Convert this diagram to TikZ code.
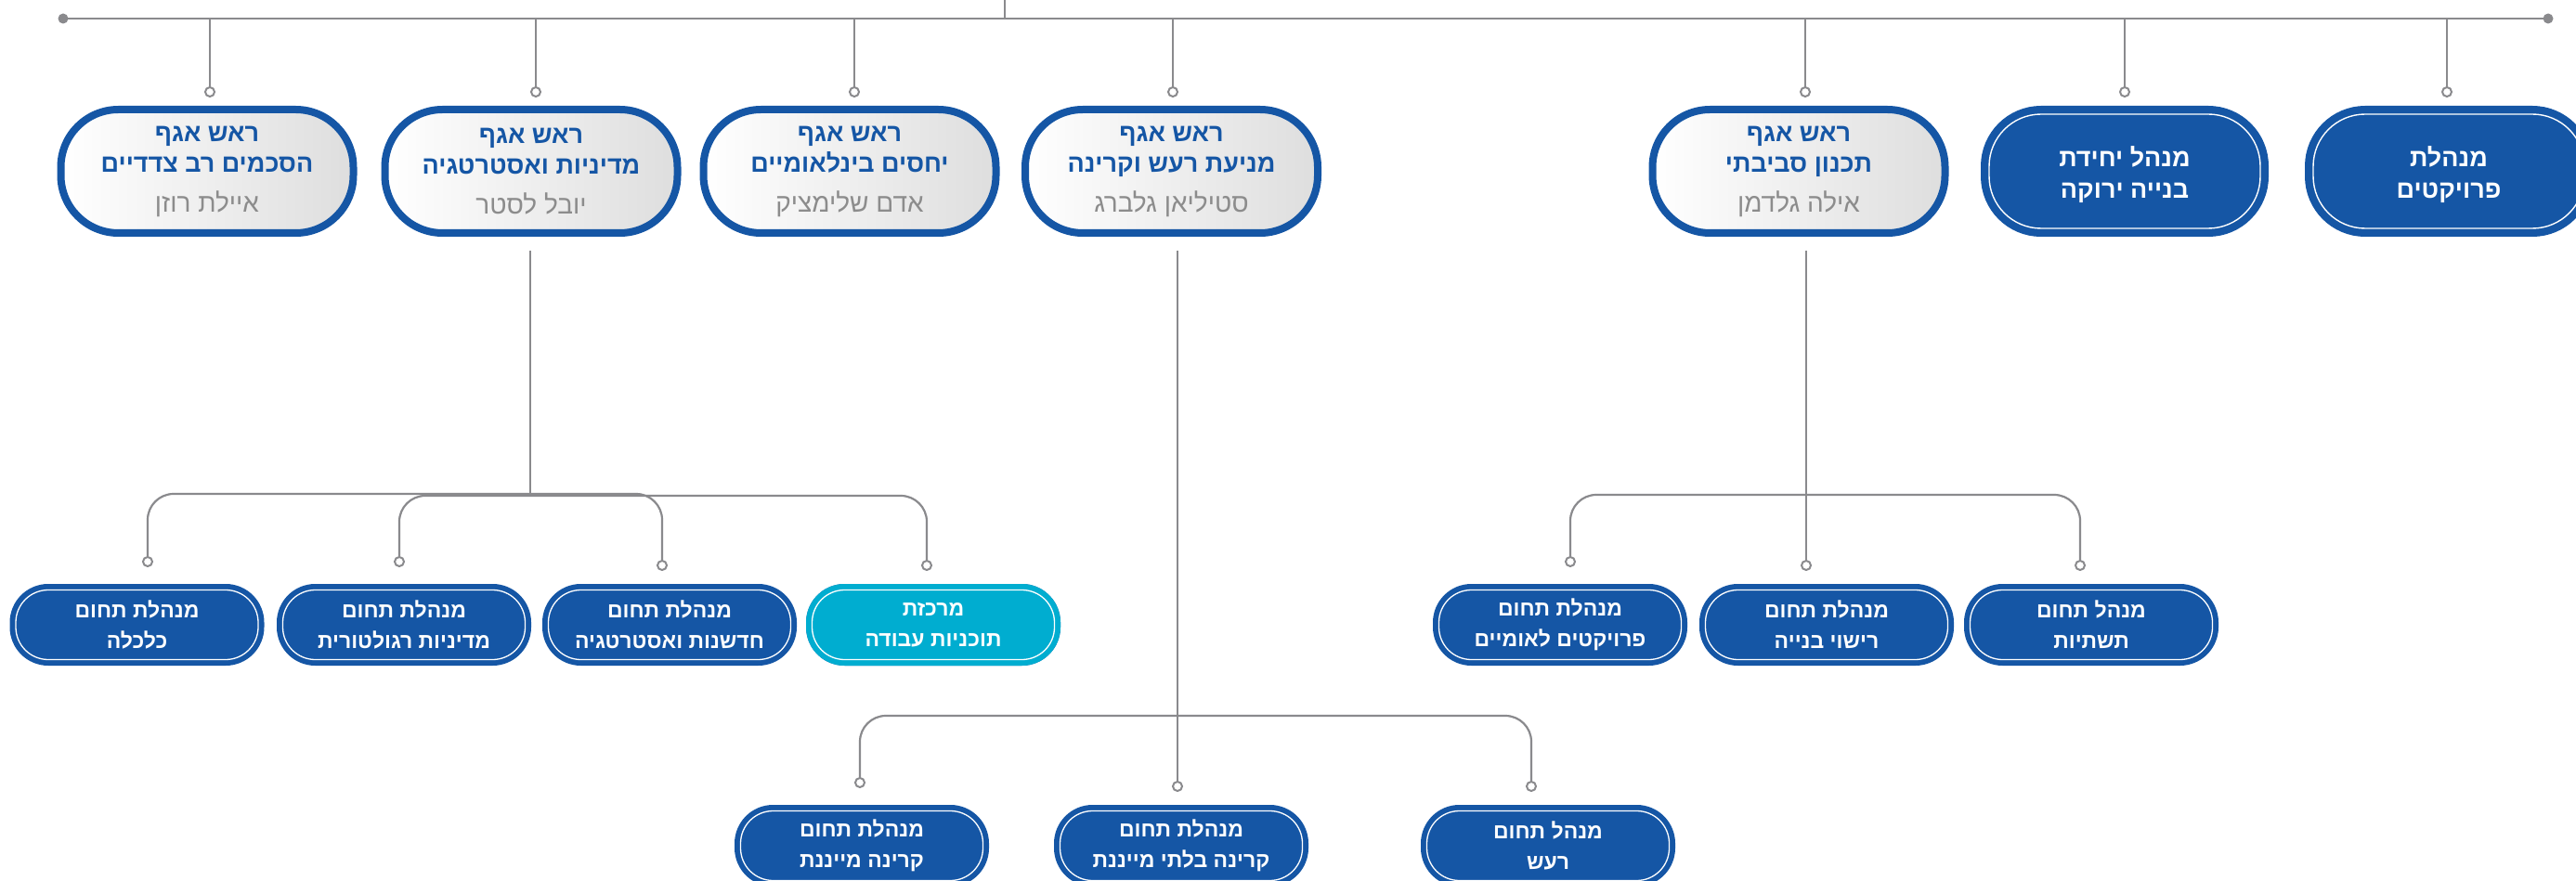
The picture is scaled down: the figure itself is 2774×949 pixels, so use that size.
\documentclass[tikz,border=0pt]{standalone}
\usepackage{fontspec}
\newfontfamily\heb[Script=Hebrew]{Liberation Sans}
\TeXXeTstate=1
\definecolor{hblue}{RGB}{21,86,165}
\definecolor{hcyan}{RGB}{0,173,208}
\definecolor{lgray}{RGB}{138,138,141}
\definecolor{ngray}{RGB}{140,140,140}
\newcommand{\rl}[1]{\beginR #1\endR}
\newcommand{\nm}[1]{{\mdseries\fontsize{28}{31}\selectfont\color{ngray}\rl{#1}}}
\tikzset{
  conn/.style={draw=lgray, line width=2.2pt},
  endc/.style={circle, draw=lgray, fill=white, line width=2pt, minimum size=10pt, inner sep=0pt},
  headbox/.style={rectangle, rounded corners=62pt, draw=hblue, line width=8pt,
    left color=white, right color=black!13, minimum width=315pt, minimum height=133pt,
    align=center, inner sep=0pt, text=hblue,
    font=\heb\bfseries\fontsize{27}{33}\selectfont},
  unitbox/.style={rectangle, rounded corners=56pt, fill=hblue, draw=white, line width=1.4pt,
    preaction={draw=hblue, line width=18pt}, minimum width=292pt, minimum height=123pt},
  unittext/.style={align=center, inner sep=0pt, text=white,
    font=\heb\bfseries\fontsize{27}{34}\selectfont},
  subbox/.style={rectangle, rounded corners=35pt, fill=hblue, draw=white, line width=1.3pt,
    preaction={draw=hblue, line width=13pt}, minimum width=261pt, minimum height=75pt,
    align=center, inner sep=0pt, text=white,
    font=\heb\bfseries\fontsize{23}{33}\selectfont},
  cyanbox/.style={subbox, fill=hcyan, preaction={draw=hcyan, line width=13pt}},
}
\begin{document}
\begin{tikzpicture}[x=1pt, y=-1pt]
\useasboundingbox (0,0) rectangle (2774,949);

% top bus
\coordinate (L) at (68,20);
\coordinate (R) at (2744,20);
\coordinate (T0) at (1082,0);
\draw[lgray, line width=2.7pt] (L) -- (R);
\fill[lgray] (L) circle (5.5pt);
\fill[lgray] (R) circle (5.5pt);
\draw[conn] (T0) -- (T0 |- L);

% drop circles
\node[endc] (dA) at (226,99) {};
\node[endc] (dB) at (577,99) {};
\node[endc] (dC) at (920,99) {};
\node[endc] (dD) at (1263,99) {};
\node[endc] (dE) at (1944,99) {};
\node[endc] (dF) at (2288,99) {};
\node[endc] (dG) at (2635,99) {};
\foreach \d in {dA,dB,dC,dD,dE,dF,dG}{\draw[conn] (\d.north) -- (\d.north |- L);}

% top boxes
\node[headbox] (A) at (223,184.5) {\rl{ראש אגף}\\\rl{הסכמים רב צדדיים}\\[10pt]\nm{איילת רוזן}};
\node[headbox] (B) at (572,184.5) {\rl{ראש אגף}\\\rl{מדיניות ואסטרטגיה}\\[10pt]\nm{יובל לסטר}};
\node[headbox] (C) at (915,184.5) {\rl{ראש אגף}\\\rl{יחסים בינלאומיים}\\[10pt]\nm{אדם שלימציק}};
\node[headbox] (D) at (1261.5,184.5) {\rl{ראש אגף}\\\rl{מניעת רעש וקרינה}\\[10pt]\nm{סטיליאן גלברג}};
\node[headbox] (E) at (1937,184.5) {\rl{ראש אגף}\\\rl{תכנון סביבתי}\\[10pt]\nm{אילה גלדמן}};
\node[unitbox] (F) at (2288,184.5) {};
\node[unittext] (Ft) at ([yshift=-4pt]F.center) {\rl{מנהל יחידת}\\\rl{בנייה ירוקה}};
\node[unitbox] (G) at (2637,184.5) {};
\node[unittext] (Gt) at ([yshift=-4pt]G.center) {\rl{מנהלת}\\\rl{פרויקטים}};

% ---- B branch
\coordinate (Bt) at (571,270);
\coordinate (Bb1) at (571,532);
\coordinate (Bb2) at (571,534);
\node[endc] (b1) at (159,605) {};
\node[endc] (b2) at (430,605) {};
\node[endc] (b3) at (713,609) {};
\node[endc] (b4) at (998,609) {};
\draw[conn] (Bt) -- (Bb1);
\draw[conn, rounded corners=28pt] (b1.north) |- (Bb1) -| (b3.north);
\draw[conn, rounded corners=28pt] (b2.north) |- (Bb2) -| (b4.north);
\node[subbox] (B1) at (147.5,673) {\rl{מנהלת תחום}\\\rl{כלכלה}};
\node[subbox] (B2) at (435,673) {\rl{מנהלת תחום}\\\rl{מדיניות רגולטורית}};
\node[subbox] (B3) at (721,673) {\rl{מנהלת תחום}\\\rl{חדשנות ואסטרטגיה}};
\node[cyanbox] (B4) at (1005,673) {\rl{מרכזת}\\\rl{תוכניות עבודה}};

% ---- E branch
\coordinate (Et) at (1945,270);
\coordinate (Eb) at (1945,533);
\node[endc] (e1) at (1691,605) {};
\node[endc] (e2) at (1945,609) {};
\node[endc] (e3) at (2240,609) {};
\draw[conn] (Et) -- (e2.north);
\draw[conn, rounded corners=28pt] (e1.north) |- (Eb) -| (e3.north);
\node[subbox] (E1) at (1680,673) {\rl{מנהלת תחום}\\\rl{פרויקטים לאומיים}};
\node[subbox] (E2) at (1967,673) {\rl{מנהלת תחום}\\\rl{רישוי בנייה}};
\node[subbox] (E3) at (2252,673) {\rl{מנהל תחום}\\\rl{תשתיות}};

% ---- D branch
\coordinate (Dt) at (1268,270);
\coordinate (Db) at (1268,771);
\node[endc] (g1) at (926,843) {};
\node[endc] (g2) at (1268,847) {};
\node[endc] (g3) at (1649,847) {};
\draw[conn] (Dt) -- (g2.north);
\draw[conn, rounded corners=28pt] (g1.north) |- (Db) -| (g3.north);
\node[subbox] (D1) at (928,911) {\rl{מנהלת תחום}\\\rl{קרינה מייננת}};
\node[subbox] (D2) at (1272,911) {\rl{מנהלת תחום}\\\rl{קרינה בלתי מייננת}};
\node[subbox] (D3) at (1667,911) {\rl{מנהל תחום}\\\rl{רעש}};
\end{tikzpicture}
\end{document}
